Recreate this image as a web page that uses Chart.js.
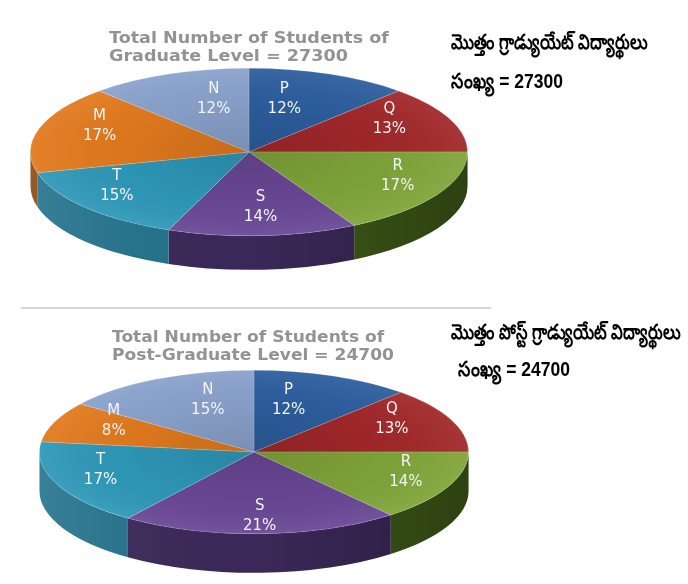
<!DOCTYPE html>
<html>
<head>
<meta charset="utf-8">
<script src="https://cdn.jsdelivr.net/npm/chart.js@4.4.1/dist/chart.umd.min.js"></script>
<style>
  body { margin: 0; background: #fff; }
  #wrap { position: relative; width: 688px; height: 584px; overflow: hidden; }
  canvas { position: absolute; left: 0; top: 0; }
  .title { position: absolute; font: bold 15px "DejaVu Sans", Verdana, sans-serif; color: #939393; line-height: 18px; white-space: nowrap; transform-origin: 0 0; }
  .telugu { position: absolute; font: bold 21px "Liberation Sans Narrow", "Liberation Sans", sans-serif; color: #000; white-space: nowrap; transform-origin: 0 0; }
  #rule { position: absolute; left: 21px; top: 307px; width: 470px; height: 2px; background: #d4d4d4; }
</style>
</head>
<body>
<div id="wrap">
  <canvas id="grad" width="688" height="584"></canvas>
  <canvas id="post" width="688" height="584"></canvas>
  <div class="title fit" data-w="280" style="left:109px; top:29px;">Total Number of Students of<br>Graduate Level = 27300</div>
  <div class="title fit" data-w="282" style="left:112px; top:328px;">Total Number of Students of<br>Post-Graduate Level = 24700</div>
  <div class="telugu fit" data-w="196" style="left:451px; top:30px;">మొత్తం గ్రాడ్యుయేట్ విద్యార్థులు</div>
  <div class="telugu fit" data-w="112" style="left:451px; top:69px;">సంఖ్య = 27300</div>
  <div class="telugu fit" data-w="229" style="left:451px; top:320px;">మొత్తం పోస్ట్ గ్రాడ్యుయేట్ విద్యార్థులు</div>
  <div class="telugu fit" data-w="112" style="left:458px; top:357px;">సంఖ్య = 24700</div>
  <div id="rule"></div>
</div>
<script>
// categories and percentage shares
const categories = ["P", "Q", "R", "S", "T", "M", "N"];
const graduateShare = [12, 13, 17, 14, 15, 17, 12];
const postGraduateShare = [12, 13, 14, 21, 17, 8, 15];

const sliceColors = ["#2d5e9e", "#a2282a", "#80a53a", "#6a4896", "#2e98b8", "#e27a1e", "#8aa2cc"];
const sideColors = ["#1c3c66", "#661719", "#3f5a18", "#3b2859", "#22728c", "#8a4810", "#566a90"];

// squeeze text blocks to the widths seen in the picture
document.querySelectorAll(".fit").forEach(el => {
  const w = el.getBoundingClientRect().width;
  el.style.transform = "scaleX(" + (el.dataset.w / w) + ")";
});

// tilted pie: squash the library's arcs into an ellipse and add a wall
function tiltPlugin(geo) {
  return {
    id: "tilt",
    beforeDatasetsDraw(chart) {
      const ctx = chart.ctx;
      const meta = chart.getDatasetMeta(0);
      const arc0 = meta.data[0];
      const r = arc0.outerRadius;
      const ry = r * geo.k;
      const cx = arc0.x;
      // side walls, only the front half shows
      meta.data.forEach((el, i) => {
        const s = Math.max(el.startAngle, 0);
        const e = Math.min(el.endAngle, Math.PI);
        if (e <= s) return;
        ctx.save();
        ctx.beginPath();
        ctx.ellipse(cx, geo.cy, r, ry, 0, s, e);
        ctx.ellipse(cx, geo.cy + geo.depth, r, ry, 0, e, s, true);
        ctx.closePath();
        ctx.fillStyle = sideColors[i];
        ctx.fill();
        const g = ctx.createLinearGradient(cx - r, 0, cx + r, 0);
        g.addColorStop(0, "rgba(255,255,255,0.10)");
        g.addColorStop(0.5, "rgba(0,0,0,0)");
        g.addColorStop(1, "rgba(0,0,0,0.28)");
        ctx.fillStyle = g;
        ctx.fill();
        ctx.restore();
      });
      ctx.save();
      ctx.translate(cx, geo.cy);
      ctx.scale(1, geo.k);
      ctx.translate(-cx, -arc0.y);
    },
    afterDatasetsDraw(chart) {
      const ctx = chart.ctx;
      const meta = chart.getDatasetMeta(0);
      const arc0 = meta.data[0];
      // soft shading of the top face, darker near the middle
      const sh = ctx.createRadialGradient(arc0.x, arc0.y, 0, arc0.x, arc0.y, arc0.outerRadius);
      sh.addColorStop(0, "rgba(0,0,0,0.12)");
      sh.addColorStop(0.6, "rgba(0,0,0,0.03)");
      sh.addColorStop(1, "rgba(255,255,255,0.06)");
      ctx.beginPath();
      ctx.arc(arc0.x, arc0.y, arc0.outerRadius, 0, Math.PI * 2);
      ctx.fillStyle = sh;
      ctx.fill();
      ctx.restore();

      const values = chart.data.datasets[0].data;
      ctx.save();
      ctx.fillStyle = "#f4f4f4";
      ctx.font = "15px 'DejaVu Sans', Verdana, sans-serif";
      ctx.textAlign = "center";
      ctx.textBaseline = "middle";
      meta.data.forEach((el, i) => {
        const mid = (el.startAngle + el.endAngle) / 2;
        const sn = Math.sin(mid);
        const t = Math.min(Math.max((-sn - 0.7) / 0.25, 0), 1);
        const base = 0.74 + 0.1 * sn;
        const fx = base + (0.42 - base) * t;
        const fy = (0.76 + geo.lift * Math.max(sn, 0)) + (0.56 - 0.76) * t;
        const x = el.x + fx * el.outerRadius * Math.cos(mid);
        const y = geo.cy - 8 + fy * el.outerRadius * geo.k * sn;
        ctx.fillText(chart.data.labels[i], x, y - 10);
        ctx.fillText(values[i] + "%", x, y + 10);
      });
      ctx.restore();
    }
  };
}

function makePie(id, values, geo) {
  return new Chart(document.getElementById(id), {
    type: "pie",
    data: {
      labels: categories,
      datasets: [{
        data: values,
        backgroundColor: sliceColors,
        borderColor: "rgba(255,255,255,0.25)",
        borderWidth: 1,
        clip: false
      }]
    },
    options: {
      responsive: false,
      animation: false,
      events: [],
      devicePixelRatio: 1,
      layout: { padding: geo.padding },
      plugins: { legend: { display: false }, tooltip: { enabled: false } }
    },
    plugins: [tiltPlugin(geo)]
  });
}

makePie("grad", graduateShare, {
  padding: { left: 30, right: 220, top: 0, bottom: 146 },
  cy: 152, k: 84 / 219, depth: 34, lift: 0
});
makePie("post", postGraduateShare, {
  padding: { left: 39, right: 219, top: 0, bottom: 154 },
  cy: 452, k: 82 / 215, depth: 39, lift: 0.12
});
</script>
</body>
</html>
